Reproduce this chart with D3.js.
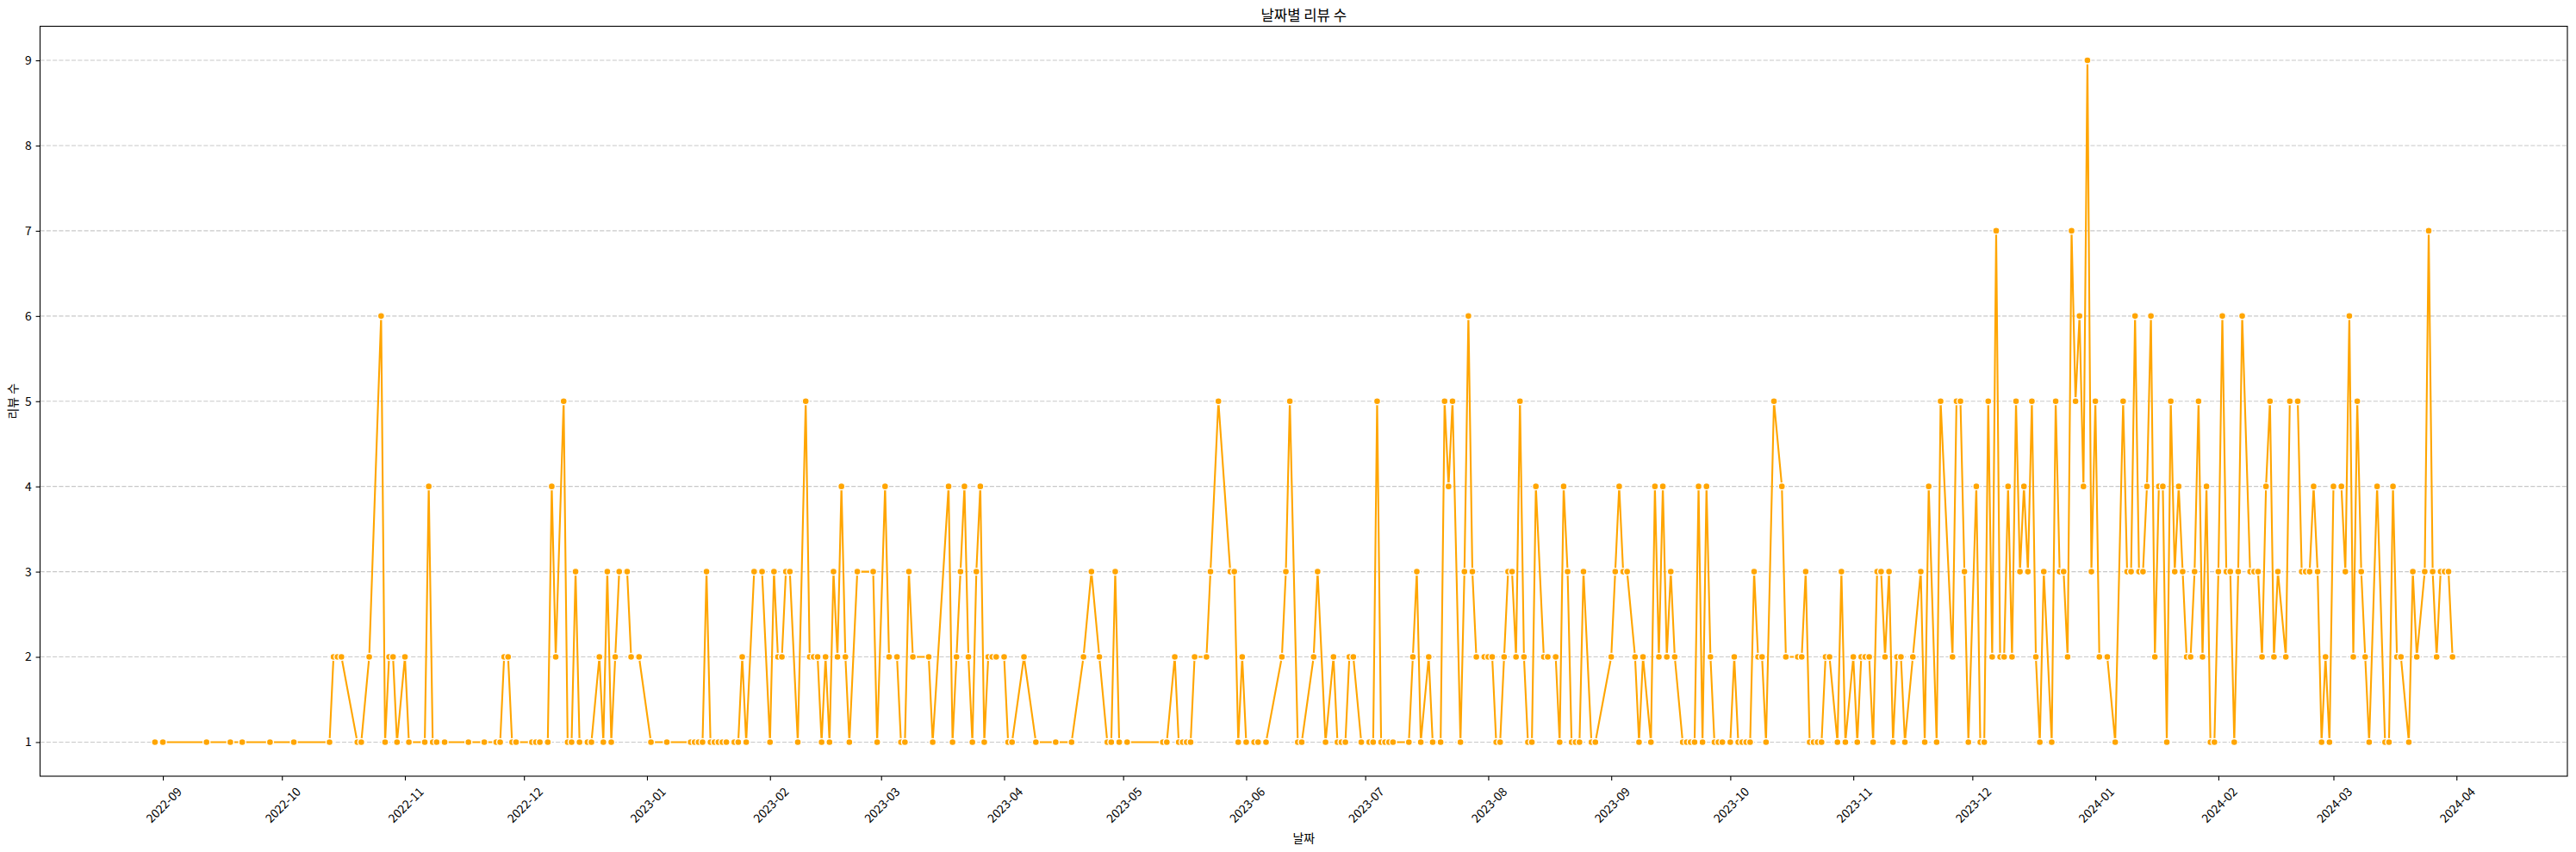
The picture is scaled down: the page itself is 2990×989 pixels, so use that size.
<!DOCTYPE html>
<html>
<head>
<meta charset="utf-8">
<script src="https://cdn.jsdelivr.net/npm/d3@7"></script>
<style>
  body { margin: 0; background: #fff; }
  text { font-family: "Noto Sans CJK KR", "Noto Sans", sans-serif; fill: #000; }
</style>
</head>
<body>
<div id="chart"></div>
<script>
// review counts per day (one line per month)
var dates2022 = [
  "2022-08-30","2022-09-01","2022-09-12","2022-09-18","2022-09-21","2022-09-28",
  "2022-10-04","2022-10-13","2022-10-14","2022-10-15","2022-10-16","2022-10-20","2022-10-21","2022-10-23","2022-10-26","2022-10-27","2022-10-28","2022-10-29","2022-10-30",
  "2022-11-01","2022-11-02","2022-11-06","2022-11-07","2022-11-08","2022-11-09","2022-11-11","2022-11-17","2022-11-21","2022-11-24","2022-11-25","2022-11-26","2022-11-27","2022-11-28","2022-11-29",
  "2022-12-03","2022-12-04","2022-12-05","2022-12-07","2022-12-08","2022-12-09","2022-12-11","2022-12-12","2022-12-13","2022-12-14","2022-12-15","2022-12-17","2022-12-18","2022-12-20","2022-12-21","2022-12-22","2022-12-23","2022-12-24","2022-12-25","2022-12-27","2022-12-28","2022-12-30"
];
var counts2022 = [
  1,1,1,1,1,1,
  1,1,2,2,2,1,1,2,6,1,2,2,1,
  2,1,1,4,1,1,1,1,1,1,1,2,2,1,1,
  1,1,1,1,4,2,5,1,1,3,1,1,1,2,1,3,1,2,3,3,2,2
];

var dates2023 = [
  "2023-01-02","2023-01-06","2023-01-12","2023-01-13","2023-01-14","2023-01-15","2023-01-16","2023-01-17","2023-01-18","2023-01-19","2023-01-20","2023-01-21","2023-01-23","2023-01-24","2023-01-25","2023-01-26","2023-01-28","2023-01-30",
  "2023-02-01","2023-02-02","2023-02-03","2023-02-04","2023-02-05","2023-02-06","2023-02-08","2023-02-10","2023-02-11","2023-02-12","2023-02-13","2023-02-14","2023-02-15","2023-02-16","2023-02-17","2023-02-18","2023-02-19","2023-02-20","2023-02-21","2023-02-23","2023-02-27","2023-02-28",
  "2023-03-02","2023-03-03","2023-03-05","2023-03-06","2023-03-07","2023-03-08","2023-03-09","2023-03-13","2023-03-14","2023-03-18","2023-03-19","2023-03-20","2023-03-21","2023-03-22","2023-03-23","2023-03-24","2023-03-25","2023-03-26","2023-03-27","2023-03-28","2023-03-29","2023-03-30",
  "2023-04-01","2023-04-02","2023-04-03","2023-04-06","2023-04-09","2023-04-14","2023-04-18","2023-04-21","2023-04-23","2023-04-25","2023-04-27","2023-04-28","2023-04-29","2023-04-30",
  "2023-05-02","2023-05-11","2023-05-12","2023-05-14","2023-05-15","2023-05-16","2023-05-17","2023-05-18","2023-05-19","2023-05-22","2023-05-23","2023-05-25","2023-05-28","2023-05-29","2023-05-30","2023-05-31",
  "2023-06-01","2023-06-03","2023-06-04","2023-06-06","2023-06-10","2023-06-11","2023-06-12","2023-06-14","2023-06-15","2023-06-18","2023-06-19","2023-06-21","2023-06-23","2023-06-24","2023-06-25","2023-06-26","2023-06-27","2023-06-28","2023-06-30",
  "2023-07-02","2023-07-03","2023-07-04","2023-07-05","2023-07-06","2023-07-07","2023-07-08","2023-07-12","2023-07-13","2023-07-14","2023-07-15","2023-07-17","2023-07-18","2023-07-20","2023-07-21","2023-07-22","2023-07-23","2023-07-25","2023-07-26","2023-07-27","2023-07-28","2023-07-29","2023-07-31",
  "2023-08-01","2023-08-02","2023-08-03","2023-08-04","2023-08-05","2023-08-06","2023-08-07","2023-08-08","2023-08-09","2023-08-10","2023-08-11","2023-08-12","2023-08-13","2023-08-15","2023-08-16","2023-08-18","2023-08-19","2023-08-20","2023-08-21","2023-08-22","2023-08-23","2023-08-24","2023-08-25","2023-08-27","2023-08-28",
  "2023-09-01","2023-09-02","2023-09-03","2023-09-04","2023-09-05","2023-09-07","2023-09-08","2023-09-09","2023-09-11","2023-09-12","2023-09-13","2023-09-14","2023-09-15","2023-09-16","2023-09-17","2023-09-19","2023-09-20","2023-09-21","2023-09-22","2023-09-23","2023-09-24","2023-09-25","2023-09-26","2023-09-27","2023-09-28","2023-09-29",
  "2023-10-01","2023-10-02","2023-10-03","2023-10-04","2023-10-05","2023-10-06","2023-10-07","2023-10-08","2023-10-09","2023-10-10","2023-10-12","2023-10-14","2023-10-15","2023-10-18","2023-10-19","2023-10-20","2023-10-21","2023-10-22","2023-10-23","2023-10-24","2023-10-25","2023-10-26","2023-10-28","2023-10-29","2023-10-30",
  "2023-11-01","2023-11-02","2023-11-03","2023-11-04","2023-11-05","2023-11-06","2023-11-07","2023-11-08","2023-11-09","2023-11-10","2023-11-11","2023-11-12","2023-11-13","2023-11-14","2023-11-16","2023-11-18","2023-11-19","2023-11-20","2023-11-22","2023-11-23","2023-11-26","2023-11-27","2023-11-28","2023-11-29","2023-11-30",
  "2023-12-02","2023-12-03","2023-12-04","2023-12-05","2023-12-06","2023-12-07","2023-12-08","2023-12-09","2023-12-10","2023-12-11","2023-12-12","2023-12-13","2023-12-14","2023-12-15","2023-12-16","2023-12-17","2023-12-18","2023-12-19","2023-12-21","2023-12-22","2023-12-23","2023-12-24","2023-12-25","2023-12-26","2023-12-27","2023-12-28","2023-12-29","2023-12-30","2023-12-31"
];
var counts2023 = [
  1,1,1,1,1,1,3,1,1,1,1,1,1,1,2,1,3,3,
  1,3,2,2,3,3,1,5,2,2,2,1,2,1,3,2,4,2,1,3,3,1,
  4,2,2,1,1,3,2,2,1,4,1,2,3,4,2,1,3,4,1,2,2,2,
  2,1,1,2,1,1,1,2,3,2,1,1,3,1,
  1,1,1,2,1,1,1,1,2,2,3,5,3,3,1,2,
  1,1,1,1,2,3,5,1,1,2,3,1,2,1,1,1,2,2,1,
  1,1,5,1,1,1,1,1,2,3,1,2,1,1,5,4,5,1,3,6,3,2,2,
  2,2,1,1,2,3,3,2,5,2,1,1,4,2,2,2,1,4,3,1,1,1,3,1,1,
  2,3,4,3,3,2,1,2,1,4,2,4,2,3,2,1,1,1,1,4,1,4,2,1,1,1,
  1,2,1,1,1,1,3,2,2,1,5,4,2,2,2,3,1,1,1,1,2,2,1,3,1,
  2,1,2,2,2,1,3,3,2,3,1,2,2,1,2,3,1,4,1,5,2,5,5,3,1,
  4,1,1,5,2,7,2,2,4,2,5,3,4,3,5,2,1,3,1,5,3,3,2,7,5,6,4,9,3
];

var dates2024 = [
  "2024-01-01","2024-01-02","2024-01-04","2024-01-06","2024-01-08","2024-01-09","2024-01-10","2024-01-11","2024-01-12","2024-01-13","2024-01-14","2024-01-15","2024-01-16","2024-01-17","2024-01-18","2024-01-19","2024-01-20","2024-01-21","2024-01-22","2024-01-23","2024-01-24","2024-01-25","2024-01-26","2024-01-27","2024-01-28","2024-01-29","2024-01-30","2024-01-31",
  "2024-02-01","2024-02-02","2024-02-03","2024-02-04","2024-02-05","2024-02-06","2024-02-07","2024-02-09","2024-02-10","2024-02-11","2024-02-12","2024-02-13","2024-02-14","2024-02-15","2024-02-16","2024-02-18","2024-02-19","2024-02-21","2024-02-22","2024-02-23","2024-02-24","2024-02-25","2024-02-26","2024-02-27","2024-02-28","2024-02-29",
  "2024-03-01","2024-03-03","2024-03-04","2024-03-05","2024-03-06","2024-03-07","2024-03-08","2024-03-09","2024-03-10","2024-03-12","2024-03-14","2024-03-15","2024-03-16","2024-03-17","2024-03-18","2024-03-20","2024-03-21","2024-03-22","2024-03-24","2024-03-25","2024-03-26","2024-03-27","2024-03-28","2024-03-29","2024-03-30","2024-03-31"
];
var counts2024 = [
  5,2,2,1,5,3,3,6,3,3,4,6,2,4,4,1,5,3,4,3,2,2,3,5,2,4,1,1,
  3,6,3,3,1,3,6,3,3,3,2,4,5,2,3,2,5,5,3,3,3,4,3,1,2,1,
  4,4,3,6,2,5,3,2,1,4,1,1,4,2,2,1,3,2,3,7,3,2,3,3,3,2
];

// axis ticks
var monthTicks = [
  "2022-09","2022-10","2022-11","2022-12","2023-01","2023-02","2023-03","2023-04","2023-05","2023-06",
  "2023-07","2023-08","2023-09","2023-10","2023-11","2023-12","2024-01","2024-02","2024-03","2024-04"
];
var yTicks = [1, 2, 3, 4, 5, 6, 7, 8, 9];

// global size variables
var width = 2990;
var height = 989;
var margin = { top: 30.5, right: 10, bottom: 88, left: 46.5 };
var fontSize = 13.9;

var parseDate = d3.utcParse("%Y-%m-%d");
var parseMonth = d3.utcParse("%Y-%m");

var data = []
  .concat(d3.zip(dates2022, counts2022), d3.zip(dates2023, counts2023), d3.zip(dates2024, counts2024))
  .map(function(p) { return { date: parseDate(p[0]), count: p[1] }; });

var svg = d3
  .select("#chart")
  .append("svg")
  .attr("width", width)
  .attr("height", height);

// 5% padding on both axes, like matplotlib
var xExt = d3.extent(data, function(d) { return d.date; });
var xPad = (xExt[1] - xExt[0]) * 0.05;
var x = d3
  .scaleUtc()
  .domain([new Date(+xExt[0] - xPad), new Date(+xExt[1] + xPad)])
  .range([margin.left, width - margin.right]);

var yExt = d3.extent(data, function(d) { return d.count; });
var yPad = (yExt[1] - yExt[0]) * 0.05;
var y = d3
  .scaleLinear()
  .domain([yExt[0] - yPad, yExt[1] + yPad])
  .range([height - margin.bottom, margin.top]);

var plotBottom = height - margin.bottom;
var plotRight = width - margin.right;

// horizontal dashed grid
svg
  .append("g")
  .selectAll("line")
  .data(yTicks)
  .enter()
  .append("line")
  .attr("x1", margin.left)
  .attr("x2", plotRight)
  .attr("y1", function(d) { return y(d); })
  .attr("y2", function(d) { return y(d); })
  .attr("stroke", "#b0b0b0")
  .attr("stroke-opacity", 0.7)
  .attr("stroke-width", 1.1)
  .attr("stroke-dasharray", "5.1,2.2");

// the line
var line = d3
  .line()
  .x(function(d) { return x(d.date); })
  .y(function(d) { return y(d.count); });

svg
  .append("path")
  .datum(data)
  .attr("fill", "none")
  .attr("stroke", "orange")
  .attr("stroke-width", 2.1)
  .attr("stroke-linejoin", "round")
  .attr("d", line);

// markers
svg
  .append("g")
  .selectAll("circle")
  .data(data)
  .enter()
  .append("circle")
  .attr("cx", function(d) { return x(d.date); })
  .attr("cy", function(d) { return y(d.count); })
  .attr("r", 4)
  .attr("fill", "orange")
  .attr("stroke", "#fff")
  .attr("stroke-width", 1.4);

// x axis
var xAxis = d3
  .axisBottom(x)
  .tickValues(monthTicks.map(parseMonth))
  .tickFormat(d3.utcFormat("%Y-%m"))
  .tickSize(4.9)
  .tickPadding(4.9);

var gx = svg
  .append("g")
  .attr("transform", "translate(0," + plotBottom + ")")
  .call(xAxis);
gx.select(".domain").remove();
gx.selectAll(".tick line").attr("stroke", "#000").attr("stroke-width", 1.1);

// rotated labels, bounding box centred under the tick
gx.selectAll(".tick text")
  .attr("font-size", fontSize)
  .attr("font-family", null)
  .attr("fill", "#000")
  .attr("text-anchor", "middle")
  .attr("dominant-baseline", "central")
  .attr("dy", null)
  .attr("y", null)
  .each(function() {
    var w = this.getComputedTextLength();
    var s = (w + fontSize) / Math.SQRT2;
    d3.select(this).attr("transform", "translate(0," + (9.8 + s / 2) + ") rotate(-45)");
  });

// y axis
var yAxis = d3
  .axisLeft(y)
  .tickValues(yTicks)
  .tickFormat(d3.format("d"))
  .tickSize(4.9)
  .tickPadding(4.9);

var gy = svg
  .append("g")
  .attr("transform", "translate(" + margin.left + ",0)")
  .call(yAxis);
gy.select(".domain").remove();
gy.selectAll(".tick line").attr("stroke", "#000").attr("stroke-width", 1.1);
gy.selectAll(".tick text")
  .attr("font-size", fontSize)
  .attr("font-family", null)
  .attr("fill", "#000");

// frame
svg
  .append("rect")
  .attr("x", margin.left)
  .attr("y", margin.top)
  .attr("width", plotRight - margin.left)
  .attr("height", plotBottom - margin.top)
  .attr("fill", "none")
  .attr("stroke", "#000")
  .attr("stroke-width", 1.1);

// title and axis labels
var midX = (margin.left + plotRight) / 2;

svg
  .append("text")
  .attr("x", midX)
  .attr("y", 24)
  .attr("text-anchor", "middle")
  .attr("font-size", 16.7)
  .text("날짜별 리뷰 수");

svg
  .append("text")
  .attr("x", midX)
  .attr("y", 978)
  .attr("text-anchor", "middle")
  .attr("font-size", fontSize)
  .text("날짜");

svg
  .append("text")
  .attr("transform", "translate(14," + (margin.top + plotBottom) / 2 + ") rotate(-90)")
  .attr("text-anchor", "middle")
  .attr("dominant-baseline", "central")
  .attr("font-size", fontSize)
  .text("리뷰 수");
</script>
</body>
</html>
